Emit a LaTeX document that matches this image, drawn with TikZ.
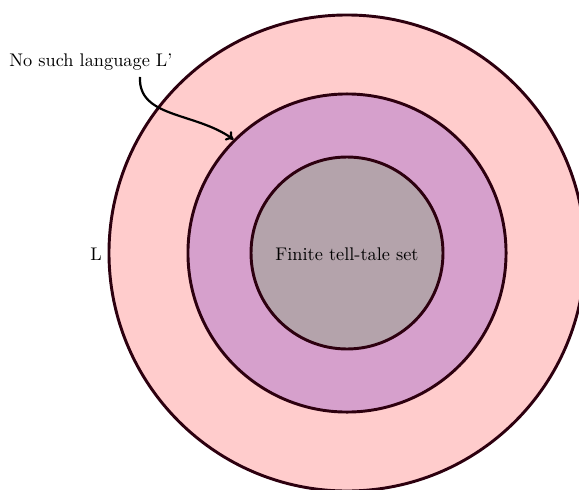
\documentclass[tikz,border=0pt]{standalone}
\usetikzlibrary{arrows.meta}
\definecolor{bigfill}{RGB}{255,204,204}
\definecolor{midfill}{RGB}{214,160,204}
\definecolor{innfill}{RGB}{180,163,171}
\definecolor{edge}{RGB}{45,0,15}
\begin{document}
\begin{tikzpicture}[x=0.5464pt,y=-0.5464pt,
  ring/.style={circle,draw=edge,ultra thick,inner sep=0pt},
  lbl/.style={inner sep=1pt,font=\normalsize}]
\useasboundingbox (0,0) rectangle (579,489);
\node[ring,fill=bigfill,minimum size=260.1pt] (big) at (347,253) {};
\node[ring,fill=midfill,minimum size=173.8pt] (mid) at (347,253) {};
\node[ring,fill=innfill,minimum size=104.9pt] (inn) at (347,253) {};
\node[lbl] (fin) at (347,254) {Finite tell-tale set};
\node[lbl,anchor=east] (L) at (104,254) {L};
\node[lbl] (lang) at (91,62) {No such language L'};
\coordinate (start) at (140,77);
\draw[very thick,-{To[length=4pt,width=6pt]}] (start) .. controls (138,118) and (195,112) .. (mid.135);
\end{tikzpicture}
\end{document}
